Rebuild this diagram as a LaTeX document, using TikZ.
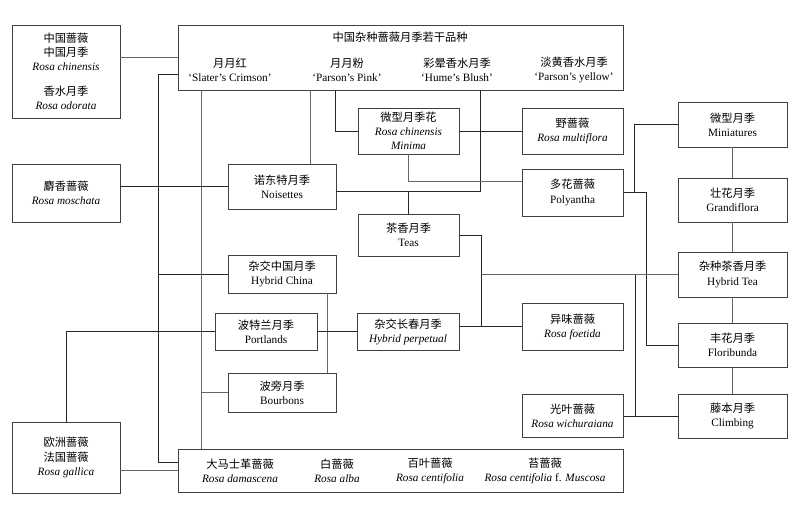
\documentclass[tikz,border=0pt]{standalone}
\usepackage{fontspec}
\setmainfont{Liberation Serif}
\newfontfamily\cjk{Noto Sans CJK SC}
\newcommand{\zhs}[1]{{\cjk #1}}
\usetikzlibrary{positioning,calc}

\begin{document}
\begin{tikzpicture}[x=0.025cm, y=-0.025cm,
    box/.style={draw=black!75, line width=0.7pt, align=center, inner sep=0pt, font=\fontsize{8}{10}\selectfont},
    wh/.style 2 args={minimum width=#1*0.025cm, minimum height=#2*0.025cm},
    txt/.style={align=center, inner sep=0pt, font=\fontsize{8}{10}\selectfont},
    link/.style={draw=black!85, line width=0.6pt},
    glink/.style={draw=black!60, line width=0.6pt}
]
    \useasboundingbox (0,0) rectangle (800,520);

    % Parent species on the left
    \node[box, wh={108}{93}] (chin) at (66,71.5) {\zhs{中国蔷薇}\\\zhs{中国月季}\\\textit{Rosa chinensis}\\[8pt]\zhs{香水月季}\\\textit{Rosa odorata}};
    \node[box, wh={108}{58}] (mosch) at (66,193) {\zhs{麝香蔷薇}\\\textit{Rosa moschata}};
    \node[box, wh={108}{71}] (gall) at (66,457.5) {\zhs{欧洲蔷薇}\\\zhs{法国蔷薇}\\\textit{Rosa gallica}};

    % China hybrids (top box)
    \node[box, wh={445}{65}] (hybrids) at (400.5,57.5) {};
    \node[txt] (title) at (400,37) {\zhs{中国杂种蔷薇月季若干品种}};
    \node[txt] (slater) at (230,70) {\zhs{月月红}\\‘Slater's Crimson’};
    \node[txt] (pink) at (347,70) {\zhs{月月粉}\\‘Parson's Pink’};
    \node[txt] (hume) at (457,70) {\zhs{彩晕香水月季}\\‘Hume's Blush’};
    \node[txt] (yellow) at (574,70) {\zhs{淡黄香水月季}\\‘Parson's yellow’};

    % Old European roses (bottom box)
    \node[box, wh={445}{43}] (old) at (400.5,470.5) {};
    \node[txt] (damask) at (240,470.5) {\zhs{大马士革蔷薇}\\\textit{Rosa damascena}};
    \node[txt] (alba) at (337,470.5) {\zhs{白蔷薇}\\\textit{Rosa alba}};
    \node[txt] (centi) at (430,470.5) {\zhs{百叶蔷薇}\\\textit{Rosa centifolia}};
    \node[txt] (moss) at (545,470.5) {\zhs{苔蔷薇}\\\textit{Rosa centifolia} f. \textit{Muscosa}};

    % Middle groups
    \node[box, wh={108}{45}] (noise) at (282,186.5) {\zhs{诺东特月季}\\Noisettes};
    \node[box, wh={101}{46}] (minima) at (408.5,131) {\zhs{微型月季花}\\\textit{Rosa chinensis}\\\textit{Minima}};
    \node[box, wh={101}{46}] (multi) at (572.5,131) {\zhs{野蔷薇}\\\textit{Rosa multiflora}};
    \node[box, wh={101}{47}] (poly) at (572.5,192.5) {\zhs{多花蔷薇}\\Polyantha};
    \node[box, wh={101}{42}] (teas) at (408.5,235) {\zhs{茶香月季}\\Teas};
    \node[box, wh={108}{38}] (hchina) at (282,274) {\zhs{杂交中国月季}\\Hybrid China};
    \node[box, wh={102}{37}] (portl) at (266,331.5) {\zhs{波特兰月季}\\Portlands};
    \node[box, wh={102}{37}] (hperp) at (408,331.5) {\zhs{杂交长春月季}\\\textit{Hybrid perpetual}};
    \node[box, wh={108}{39}] (bourb) at (282,392.5) {\zhs{波旁月季}\\Bourbons};
    \node[box, wh={101}{47}] (foet) at (572.5,326.5) {\zhs{异味蔷薇}\\\textit{Rosa foetida}};
    \node[box, wh={101}{43}] (wich) at (572.5,415.5) {\zhs{光叶蔷薇}\\\textit{Rosa wichuraiana}};

    % Modern classes on the right
    \node[box, wh={109}{45}] (minis) at (732.5,124.5) {\zhs{微型月季}\\Miniatures};
    \node[box, wh={109}{44}] (grandi) at (732.5,200) {\zhs{壮花月季}\\Grandiflora};
    \node[box, wh={109}{45}] (htea) at (732.5,274.5) {\zhs{杂种茶香月季}\\Hybrid Tea};
    \node[box, wh={109}{44}] (flori) at (732.5,345) {\zhs{丰花月季}\\Floribunda};
    \node[box, wh={109}{44}] (climb) at (732.5,416) {\zhs{藤本月季}\\Climbing};

    % Bend points
    \coordinate (spineA) at (158,74);
    \coordinate (spineB) at (158,462);
    \coordinate (spineC) at (201,0);
    \coordinate (pinkA) at (310,0);
    \coordinate (pinkB) at (335,0);
    \coordinate (humeJ) at (480,191);
    \coordinate (minY) at (0,181);
    \coordinate (polyJ) at (634,0);
    \coordinate (polyK) at (646,0);
    \coordinate (teaJ) at (481,0);
    \coordinate (climbJ) at (635,0);
    \coordinate (hcX) at (327,0);

    % Connections
    \draw[glink] (chin.east |- hybrids.west) -- (hybrids.west);
    \draw[link] (spineA -| hybrids.west) -- (spineA) -- (spineB) -- (spineB -| old.west);
    \draw[link] (hchina.west) -- (hchina.west -| spineA);
    \draw[glink] (spineC |- hybrids.south) -- (spineC |- old.north);
    \draw[glink] (bourb.west) -- (bourb.west -| spineC);
    \draw[glink] (pinkA |- hybrids.south) -- (pinkA |- noise.north);
    \draw[link] (pinkB |- hybrids.south) |- (minima.west);
    \draw[link] (mosch.east |- noise.west) -- (noise.west);
    \draw[link] (humeJ |- hybrids.south) -- (humeJ) -- (humeJ -| noise.east);
    \draw[link] (teas.north) -- (teas.north |- humeJ);
    \draw[link] (minima.east) -- (multi.west);
    \draw[glink] (minima.south) |- (poly.west |- minY);
    \draw[link] (poly.east) -- (poly.east -| polyJ) |- (minis.west);
    \draw[link] (poly.east -| polyJ) -- (poly.east -| polyK) |- (flori.west);
    \draw[link] (teas.east) -| (teaJ |- foet.west);
    \draw[link] (hperp.east |- foet.west) -- (foet.west);
    \draw[glink] (teaJ |- htea.west) -- (htea.west);
    \draw[link] (climbJ |- htea.west) -- (climbJ |- climb.west);
    \draw[link] (wich.east |- climb.west) -- (climb.west);
    \draw[glink] (minis) -- (grandi) -- (htea) -- (flori) -- (climb);
    \draw[glink] (hcX |- hchina.south) -- (hcX |- bourb.north);
    \draw[link] (portl.east) -- (hperp.west);
    \draw[link] (portl.west) -| (gall.north);
    \draw[glink] (gall.east |- old.west) -- (old.west);
\end{tikzpicture}
\end{document}
